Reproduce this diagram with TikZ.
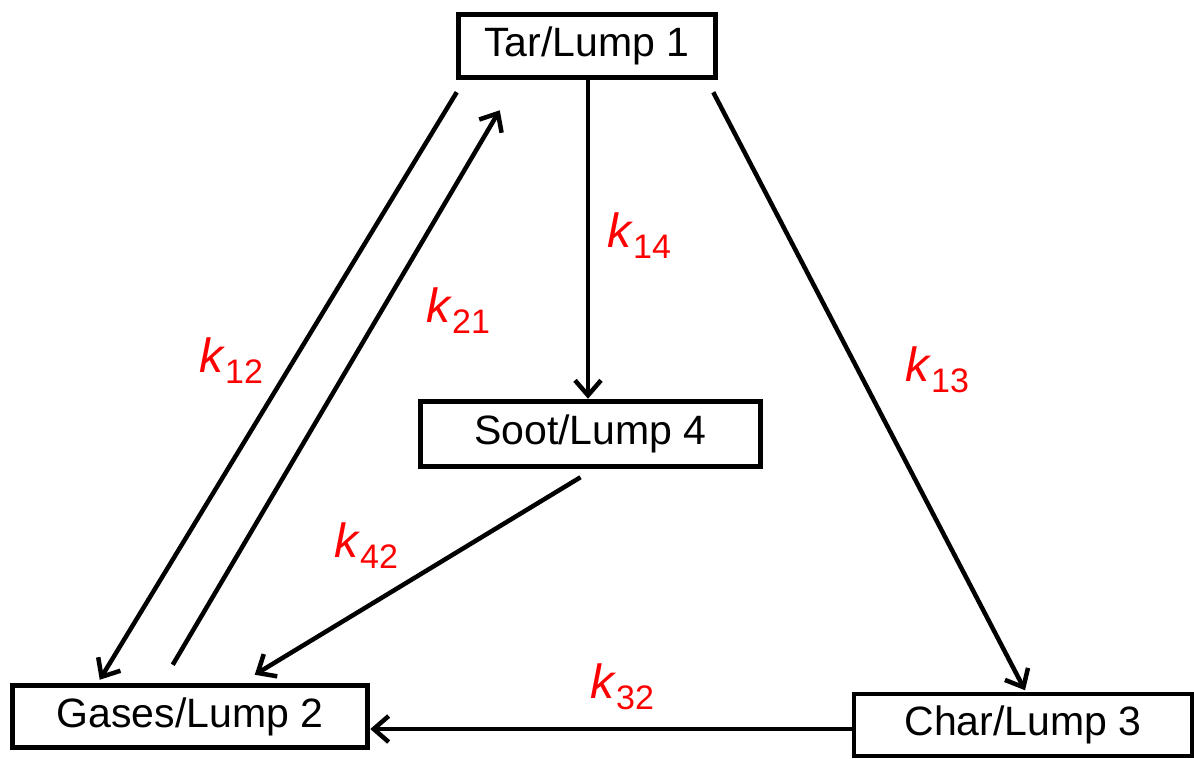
\documentclass[tikz,border=0pt]{standalone}
\usepackage{fontspec}
\setmainfont{Liberation Sans}
\usetikzlibrary{arrows.meta}

\tikzset{
  lump/.style={draw=black, line width=5.5pt, fill=white, inner sep=0pt,
    font=\fontsize{41}{48}\selectfont},
  flow/.style={draw=black, line width=4.5pt,
    -{Straight Barb[length=15pt,width=26pt,line width=4.5pt]}},
  rate/.style={text=red, anchor=base west, inner sep=0pt,
    font=\fontsize{48}{56}\selectfont}
}
\newcommand{\rk}[1]{\textit{k}\raisebox{-11pt}{\fontsize{34}{40}\selectfont #1}}

\begin{document}
\begin{tikzpicture}[x=1pt,y=-1pt]
  \useasboundingbox (0,0) rectangle (1194,758);

  % species boxes
  \node[lump, minimum width=257pt, minimum height=63pt] (tar)   at (587,46)    {Tar/Lump 1};
  \node[lump, minimum width=340pt, minimum height=65pt] (soot)  at (590.5,434) {Soot/Lump 4};
  \node[lump, minimum width=355pt, minimum height=62pt] (gas)   at (190,716.5) {Gases/Lump 2};
  \node[lump, line width=3.5pt, minimum width=338pt, minimum height=62pt] (char) at (1023,725) {Char/Lump 3};

  % reaction pathways
  \draw[flow] ([xshift=1pt,yshift=-12pt]tar.south west) -- ([xshift=90pt,yshift=3pt]gas.north west);
  \draw[flow] ([xshift=163pt,yshift=18pt]gas.north west) -- ([xshift=44pt,yshift=-30pt]tar.south west);
  \draw[flow] ([xshift=1pt]tar.south) -- ([xshift=1pt]tar.south |- soot.north);
  \draw[flow] ([xshift=-5pt,yshift=-12pt]tar.south east) -- ([xshift=2pt,yshift=2pt]char.north);
  \draw[flow] ([xshift=-10pt,yshift=-8pt]soot.south) -- ([xshift=245pt,yshift=8pt]gas.north west);
  \draw[flow] ([yshift=-4pt]char.west) -- ([yshift=-4pt]char.west -| gas.east);

  % rate constants
  \node[rate] (l12) at (199,372) {\rk{12}};
  \node[rate] (l21) at (426,322) {\rk{21}};
  \node[rate] (l14) at (607,247) {\rk{14}};
  \node[rate] (l13) at (905,381) {\rk{13}};
  \node[rate] (l42) at (334,557) {\rk{42}};
  \node[rate] (l32) at (590,698) {\rk{32}};
\end{tikzpicture}
\end{document}
